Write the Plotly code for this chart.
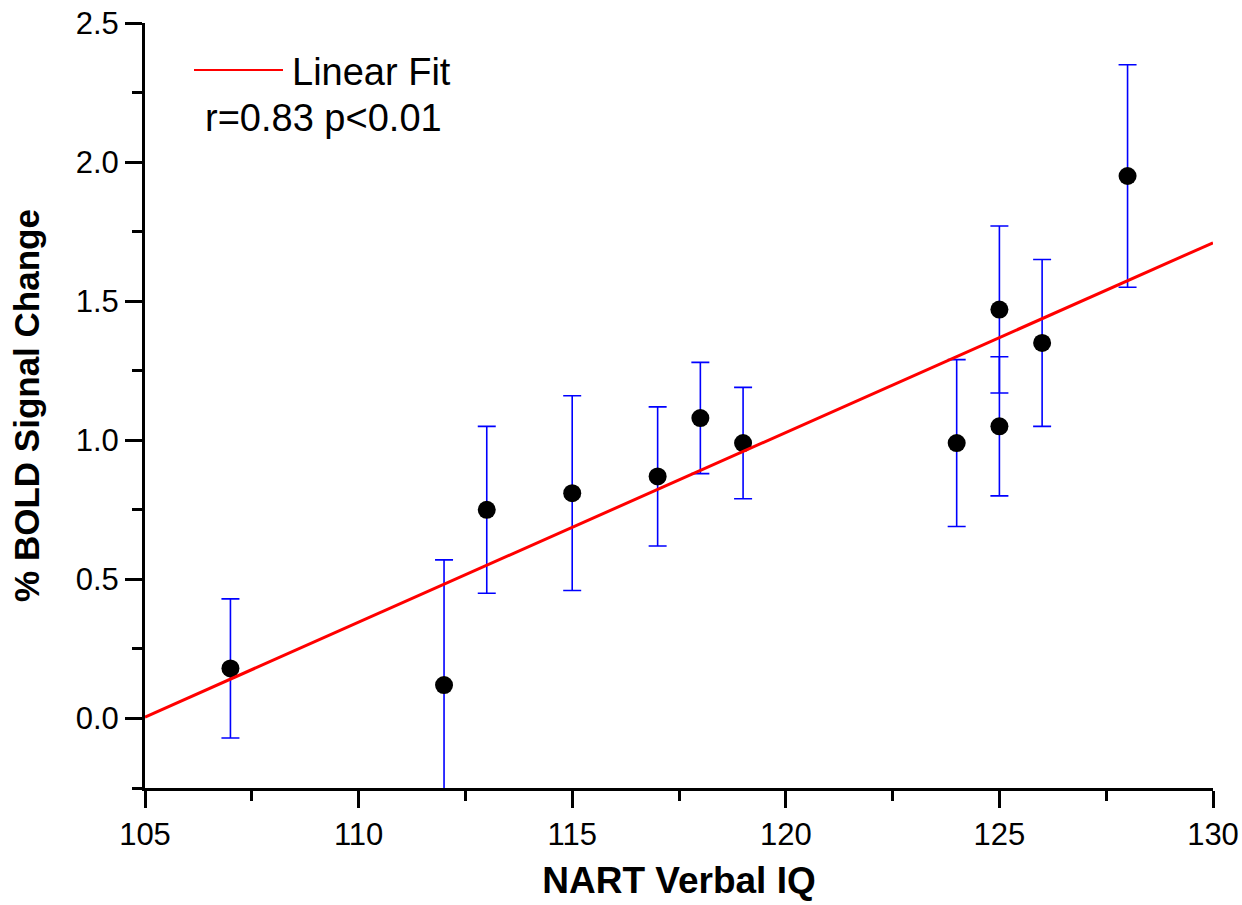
import plotly.graph_objects as go

iq = [107, 112, 113, 115, 117, 118, 119, 124, 125, 125, 126, 128]
bold = [0.18, 0.12, 0.75, 0.81, 0.87, 1.08, 0.99, 0.99, 1.47, 1.05, 1.35, 1.95]
err = [0.25, 0.45, 0.30, 0.35, 0.25, 0.20, 0.20, 0.30, 0.30, 0.25, 0.30, 0.40]

fit_x = [105, 130]
fit_y = [0.005, 1.71]

x_ticks = [105, 110, 115, 120, 125, 130]
y_ticks = [0, 0.5, 1, 1.5, 2, 2.5]
y_ticktext = ["0.0", "0.5", "1.0", "1.5", "2.0", "2.5"]

FONT = "Arial, Liberation Sans, sans-serif"

fig = go.Figure()
fig.add_trace(go.Scatter(
    x=iq, y=bold, mode="markers",
    marker=dict(color="black", size=18),
    error_y=dict(type="data", array=err, visible=True, color="#0000ff",
                 thickness=1.6, width=9),
    showlegend=False,
))
fig.add_trace(go.Scatter(
    x=fit_x, y=fit_y, mode="lines",
    line=dict(color="#ff0000", width=3),
    showlegend=False,
))

tickfont = dict(family=FONT, size=31, color="black")
# plot area target: x 145..1213, y 23..788
fig.update_layout(
    width=1242, height=905,
    margin=dict(l=145, r=29, t=23, b=117, autoexpand=False),
    plot_bgcolor="white", paper_bgcolor="white",
    xaxis=dict(
        range=[105, 130], tickmode="array", tickvals=x_ticks,
        ticks="outside", ticklen=17, tickwidth=3, tickcolor="black",
        showline=True, linewidth=3, linecolor="black", showgrid=False, zeroline=False,
        minor=dict(tickvals=[107.5, 112.5, 117.5, 122.5, 127.5], ticks="outside",
                   ticklen=10, tickwidth=3, tickcolor="black", showgrid=False),
        tickfont=tickfont, ticklabeloverflow="allow", automargin=False,
        title=dict(text="<b>NART Verbal IQ</b>",
                   font=dict(family=FONT, size=37, color="black"),
                   standoff=16),
    ),
    yaxis=dict(
        range=[-0.25, 2.5], tickmode="array", tickvals=y_ticks, ticktext=y_ticktext,
        ticks="outside", ticklen=17, tickwidth=3, tickcolor="black",
        showline=True, linewidth=3, linecolor="black", showgrid=False, zeroline=False,
        minor=dict(tickvals=[-0.25, 0.25, 0.75, 1.25, 1.75, 2.25], ticks="outside",
                   ticklen=10, tickwidth=3, tickcolor="black", showgrid=False),
        tickfont=tickfont, ticklabeloverflow="allow", automargin=False,
        title=dict(text="<b>% BOLD Signal Change</b>",
                   font=dict(family=FONT, size=35, color="black"),
                   standoff=26),
    ),
)

PW, PH = 1068, 765
fig.add_shape(type="line", xref="paper", yref="paper",
              x0=(194 - 145) / PW, x1=(283 - 145) / PW,
              y0=(788 - 70) / PH, y1=(788 - 70) / PH,
              line=dict(color="#ff0000", width=2))
fig.add_annotation(text="Linear Fit", xref="paper", yref="paper",
                   x=(290 - 145) / PW, y=(788 - 72) / PH, xanchor="left", yanchor="middle",
                   showarrow=False, font=dict(family=FONT, size=38, color="black"))
fig.add_annotation(text="r=0.83 p<0.01", xref="paper", yref="paper",
                   x=(203 - 145) / PW, y=(788 - 118) / PH, xanchor="left", yanchor="middle",
                   showarrow=False, font=dict(family=FONT, size=38, color="black"))

fig.write_html("out.html",
               config={"displayModeBar": False},
               post_script="document.body.style.margin='0';document.body.style.overflow='hidden';")
